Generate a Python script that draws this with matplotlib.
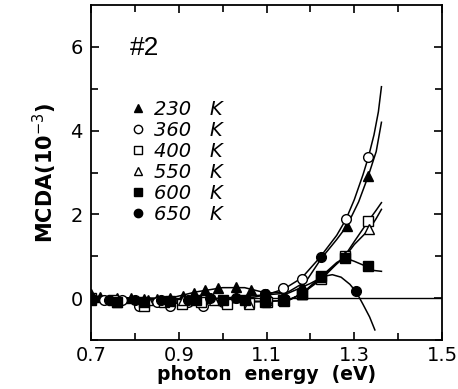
import numpy as np
import matplotlib
matplotlib.use("Agg")
import matplotlib.pyplot as plt
from matplotlib.lines import Line2D

plt.rcParams['font.family'] = ['DejaVu Sans']

# measured MCDA points, x in eV, y in units of 1e-3
temps = ['230', '360', '400', '550', '600', '650']
markers = ['^', 'o', 's', '^', 's', 'o']
filled = [True, False, False, False, True, True]

x_230 = [0.70, 0.72, 0.76, 0.79, 0.82, 0.85, 0.88, 0.91, 0.935, 0.96, 0.99, 1.03, 1.065, 1.10, 1.14, 1.18, 1.283, 1.332]
y_230 = [0.10, 0.02, 0.00, 0.00, -0.02, -0.02, 0.00, 0.05, 0.12, 0.20, 0.25, 0.27, 0.20, 0.10, 0.10, 0.30, 1.72, 2.92]
x_360 = [0.70, 0.73, 0.77, 0.81, 0.85, 0.88, 0.92, 0.956, 1.00, 1.05, 1.097, 1.137, 1.18, 1.281, 1.332]
y_360 = [0.00, -0.05, -0.05, -0.18, -0.10, -0.20, -0.10, -0.18, -0.10, -0.05, 0.10, 0.24, 0.46, 1.88, 3.36]
x_400 = [0.70, 0.75, 0.82, 0.865, 0.907, 0.95, 1.009, 1.06, 1.10, 1.14, 1.18, 1.225, 1.279, 1.332]
y_400 = [0.00, -0.05, -0.18, -0.10, -0.15, -0.10, -0.15, -0.12, -0.10, -0.08, 0.10, 0.45, 1.00, 1.84]
x_550 = [0.70, 0.76, 0.83, 0.91, 0.98, 1.06, 1.10, 1.14, 1.18, 1.225, 1.28, 1.334]
y_550 = [0.05, -0.10, -0.05, -0.05, -0.05, -0.15, -0.05, -0.05, 0.10, 0.50, 1.00, 1.64]
x_600 = [0.70, 0.76, 0.82, 0.88, 0.94, 1.00, 1.05, 1.097, 1.137, 1.18, 1.225, 1.279, 1.332]
y_600 = [-0.05, -0.10, -0.10, -0.08, -0.05, -0.05, -0.05, -0.10, -0.05, 0.10, 0.52, 0.96, 0.76]
x_650 = [0.70, 0.74, 0.80, 0.86, 0.92, 0.97, 1.03, 1.097, 1.225, 1.305]
y_650 = [0.00, -0.05, -0.05, -0.05, -0.05, 0.00, 0.00, 0.10, 0.98, 0.16]

# fitted curves
cx_230 = [0.70, 0.80, 0.88, 0.94, 1.00, 1.05, 1.10, 1.15, 1.19, 1.225, 1.26, 1.283, 1.31, 1.332, 1.35, 1.362]
cy_230 = [0.05, 0.00, 0.00, 0.15, 0.25, 0.25, 0.12, 0.15, 0.40, 0.95, 1.40, 1.72, 2.30, 2.92, 3.50, 4.20]
cx_360 = [0.70, 0.80, 0.90, 1.00, 1.05, 1.10, 1.14, 1.18, 1.22, 1.26, 1.281, 1.30, 1.32, 1.332, 1.345, 1.355, 1.362]
cy_360 = [0.00, -0.08, -0.12, -0.08, -0.02, 0.08, 0.22, 0.48, 0.95, 1.50, 1.88, 2.35, 2.95, 3.36, 3.90, 4.45, 5.05]
cx_400 = [0.70, 0.80, 0.90, 1.00, 1.10, 1.15, 1.18, 1.225, 1.26, 1.279, 1.30, 1.332, 1.35, 1.362]
cy_400 = [0.00, -0.10, -0.12, -0.12, -0.08, -0.05, 0.10, 0.45, 0.82, 1.02, 1.35, 1.84, 2.10, 2.28]
cx_550 = [1.15, 1.18, 1.225, 1.26, 1.28, 1.30, 1.334, 1.35, 1.362]
cy_550 = [-0.05, 0.10, 0.50, 0.82, 1.00, 1.28, 1.64, 1.90, 2.12]
cx_600 = [0.70, 0.80, 0.90, 1.00, 1.10, 1.15, 1.18, 1.225, 1.26, 1.279, 1.30, 1.318, 1.332, 1.345, 1.362]
cy_600 = [-0.05, -0.08, -0.07, -0.05, -0.08, -0.05, 0.10, 0.52, 0.85, 0.96, 0.88, 0.80, 0.74, 0.66, 0.64]
cx_650 = [0.70, 0.80, 0.90, 1.00, 1.10, 1.15, 1.20, 1.23, 1.25, 1.27, 1.29, 1.305, 1.32, 1.335, 1.347]
cy_650 = [0.00, -0.04, -0.04, 0.00, 0.08, 0.12, 0.35, 0.52, 0.56, 0.50, 0.33, 0.14, -0.15, -0.45, -0.76]

xs = [x_230, x_360, x_400, x_550, x_600, x_650]
ys = [y_230, y_360, y_400, y_550, y_600, y_650]
cxs = [cx_230, cx_360, cx_400, cx_550, cx_600, cx_650]
cys = [cy_230, cy_360, cy_400, cy_550, cy_600, cy_650]

fig = plt.figure(figsize=(4.58, 3.89), dpi=100)
ax = fig.add_axes([0.199, 0.126, 0.766, 0.861])

ax.axhline(0, color='black', lw=1.0, zorder=1)
for cx, cy in zip(cxs, cys):
    ax.plot(cx, cy, color='black', lw=1.1, zorder=2)
for x, y, m, f in zip(xs, ys, markers, filled):
    ax.plot(x, y, linestyle='none', marker=m, markersize=7,
            markerfacecolor='black' if f else 'white',
            markeredgecolor='black', markeredgewidth=1.0, zorder=3)

ax.set_xlim(0.7, 1.5)
ax.set_ylim(-1, 7)
ax.set_xticks([0.7, 0.9, 1.1, 1.3, 1.5])
ax.set_xticklabels(['0.7', '0.9', '1.1', '1.3', '1.5'])
ax.set_xticks(np.arange(0.8, 1.45, 0.2), minor=True)
ax.set_yticks([0, 2, 4, 6])
ax.set_yticks([-1, 1, 3, 5], minor=True)
ax.tick_params(which='both', direction='in', top=True, right=True,
               labelsize=14, width=1.2)
ax.tick_params(which='major', length=6)
ax.tick_params(axis='x', which='major', pad=4)
ax.tick_params(axis='y', which='major', pad=6)
ax.tick_params(which='minor', length=5)
for s in ax.spines.values():
    s.set_linewidth(1.3)

ax.set_xlabel('photon  energy  (eV)', fontsize=13.5, fontweight='bold', labelpad=0)
ax.set_ylabel('MCDA(10$^{-3}$)', fontsize=15, fontweight='bold', labelpad=8)

ax.text(0.11, 0.872, '#2', transform=ax.transAxes, fontsize=19,
        family='Liberation Sans', ha='left', va='center')

handles = [Line2D([], [], linestyle='none', marker=m, markersize=6,
                  markerfacecolor='black' if f else 'white',
                  markeredgecolor='black', markeredgewidth=1.0)
           for m, f in zip(markers, filled)]
labels = [t + '   K' for t in temps]
ax.legend(handles, labels, loc='upper left', bbox_to_anchor=(0.09, 0.745),
          frameon=False, handlelength=0.6, handletextpad=0.5,
          labelspacing=0.1, borderpad=0,
          prop={'size': 14, 'style': 'oblique'})

fig.savefig('out.png', dpi=100)
